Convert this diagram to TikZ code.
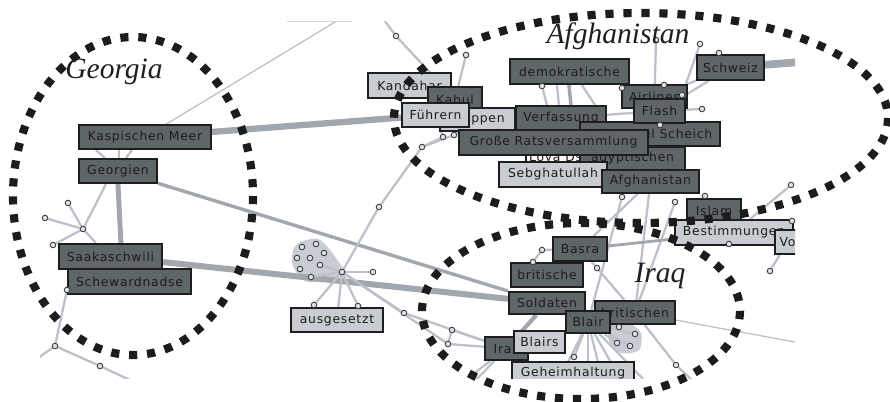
\documentclass[tikz,border=0pt]{standalone}
\usepackage{fontspec}
\newfontfamily\boxfont[LetterSpace=6]{DejaVu Sans}
\newfontfamily\ttlfont{Liberation Serif}
\usetikzlibrary{calc}
\pgfdeclarelayer{back}
\pgfdeclarelayer{bg}
\pgfsetlayers{back,bg,main}
\definecolor{dfill}{HTML}{5F6668}
\definecolor{lfill}{HTML}{C9CCD1}
\definecolor{bord}{HTML}{1E1E1E}
\definecolor{txt}{HTML}{1C1C1C}
\definecolor{edge}{HTML}{BCC0C8}
\definecolor{edgeD}{HTML}{A2A7AD}
\definecolor{dotf}{HTML}{DDE0E4}
\definecolor{dotb}{HTML}{3A3A3A}
\definecolor{blobc}{HTML}{C9CDD3}
\definecolor{ringc}{HTML}{1C1C1C}
\tikzset{
  dbox/.style={rectangle, draw=bord, line width=1.5pt, fill=dfill, text=txt,
    font=\boxfont\fontsize{8.8}{10}\selectfont, inner sep=0.5pt},
  lbox/.style={dbox, fill=lfill},
  wbox/.style={dbox, fill=white!95!lfill},
  dotn/.style={circle, draw=dotb, fill=dotf, line width=0.6pt, minimum size=4pt, inner sep=0pt},
  edt/.style={draw=edge, line width=0.9pt},
  ed/.style={draw=edge, line width=1.6pt},
  edk/.style={draw=edgeD, line width=4.5pt},
  ring/.style={draw=ringc, line width=5.8pt, dash pattern=on 5.8pt off 7pt},
  ttl/.style={font=\ttlfont\itshape\fontsize{21}{24}\selectfont, text=black!88, inner sep=0pt}
}
\newcommand\gbox[7]{%
  \pgfmathsetmacro\gbw{(#4-#2)*0.025}%
  \pgfmathsetmacro\gbh{(#5-#3)*0.025}%
  \node[#6, minimum width=\gbw cm, minimum height=\gbh cm] (#1) at ({(#2+#4)/2},{(#3+#5)/2}) {#7};}
\newcommand\gdot[3]{\node[dotn] (#1) at (#2,#3) {};}
\begin{document}
\begin{tikzpicture}[x=0.025cm,y=-0.025cm]
\useasboundingbox (0,0) rectangle (890,402);
\begin{pgfonlayer}{back}
\fill[white] (0,0) rectangle (890,402);
\end{pgfonlayer}
\begin{scope}
\clip (40,21) rectangle (795,378);
% ---- boxes
\gbox{kasp}{79}{125}{211}{149}{dbox}{Kaspischen Meer}
\gbox{geor}{79}{159}{157}{183}{dbox}{Georgien}
\gbox{saak}{59}{244}{162}{269}{dbox}{Saakaschwili}
\gbox{schew}{68}{269}{191}{294}{dbox}{Schewardnadse}
\gbox{ausg}{291}{308}{383}{332}{lbox}{ausgesetzt}
\gbox{kand}{368}{73}{451}{98}{lbox}{Kandahar}
\gbox{kabul}{428}{87}{482}{112}{dbox}{Kabul}
\gbox{trup}{440}{108}{515}{131}{lbox}{Truppen}
\gbox{fuehr}{402}{103}{469}{127}{lbox}{Führern}
\gbox{demo}{510}{59}{629}{84}{dbox}{demokratische}
\gbox{verf}{516}{106}{606}{130}{dbox}{Verfassung}
\gbox{airl}{622}{85}{687}{108}{dbox}{Airlines}
\gbox{schweiz}{697}{55}{764}{80}{dbox}{Schweiz}
\gbox{scharm}{580}{122}{720}{146}{dbox}{Scharm el Scheich}
\gbox{flash}{634}{99}{685}{123}{dbox}{Flash}
\gbox{loya}{526}{147}{628}{170}{wbox}{Loya Dschirga}
\gbox{aegypt}{580}{147}{685}{170}{dbox}{ägyptischen}
\gbox{grosse}{459}{130}{648}{155}{dbox}{Große Ratsversammlung}
\gbox{sebg}{499}{162}{607}{187}{lbox}{Sebghatullah}
\gbox{afgh}{602}{170}{699}{193}{dbox}{Afghanistan}
\gbox{islam}{687}{199}{741}{222}{dbox}{Islam}
\gbox{best}{675}{220}{793}{245}{lbox}{Bestimmungen}
\gbox{vo}{775}{230}{800}{254}{lbox}{Vo}
\gbox{basra}{553}{237}{607}{261}{dbox}{Basra}
\gbox{brit}{511}{263}{583}{287}{dbox}{britische}
\gbox{sold}{509}{292}{585}{314}{dbox}{Soldaten}
\gbox{britn}{595}{301}{675}{324}{dbox}{britischen}
\gbox{blair}{566}{311}{610}{333}{dbox}{Blair}
\gbox{irak}{485}{337}{528}{360}{dbox}{Irak}
\gbox{blairs}{514}{331}{565}{353}{lbox}{Blairs}
\gbox{geheim}{512}{362}{634}{384}{lbox}{Geheimhaltung}
% ---- small graph nodes
\gdot{g1}{68}{203}\gdot{g2}{45}{218}\gdot{g3}{53}{245}\gdot{ghub}{83}{229}
\gdot{s1}{67}{290}\gdot{s2}{55}{346}\gdot{s3}{100}{366}
\gdot{h}{342}{272}\gdot{h1}{373}{272}\gdot{h2}{379}{207}\gdot{h3}{422}{147}
\gdot{h4}{443}{137}\gdot{h5}{454}{135}
\gdot{a1}{314}{305}\gdot{a2}{358}{306}\gdot{a3}{404}{313}\gdot{a4}{452}{330}
\gdot{a5}{448}{344}\gdot{a6}{472}{375}
\gdot{b1}{302}{247}\gdot{b2}{316}{244}\gdot{b3}{324}{253}\gdot{b4}{297}{258}
\gdot{b5}{310}{258}\gdot{b6}{320}{265}\gdot{b7}{300}{269}\gdot{b8}{311}{277}
\gdot{k1}{396}{36}\gdot{k2}{466}{55}
\gdot{f1}{542}{86}\gdot{f2}{622}{88}\gdot{f3}{664}{85}\gdot{f4}{682}{95}
\gdot{f5}{702}{109}\gdot{f6}{660}{125}\gdot{f7}{656}{40}\gdot{f8}{700}{44}
\gdot{f9}{719}{53}\gdot{f10}{622}{197}\gdot{f11}{675}{202}\gdot{f12}{705}{196}
\gdot{v1}{791}{185}\gdot{v2}{792}{221}\gdot{v3}{729}{244}\gdot{v4}{770}{271}
\gdot{i1}{542}{250}\gdot{i2}{533}{262}\gdot{i3}{597}{268}
\gdot{i5}{619}{327}\gdot{i6}{635}{334}\gdot{i7}{617}{343}\gdot{i8}{630}{346}
\gdot{i9}{676}{365}\gdot{i10}{574}{357}
\end{scope}
% ---- connectors (behind the boxes)
\begin{pgfonlayer}{bg}
\begin{scope}
\clip (40,21) rectangle (795,378);
\coordinate (tA) at (345,16);
\coordinate (tL1) at (287,21.6);
\coordinate (tL2) at (352,21.6);
\coordinate (sL) at (38,358);
\coordinate (sB) at (132,381);
\coordinate (kT) at (381,16);
\coordinate (sR) at (800,62);
\coordinate (rR) at (800,343);
\coordinate (rB) at (694,382);
\coordinate (iB) at (474,382);
\coordinate (q1) at (558,382);
\coordinate (q2) at (588,382);
\coordinate (q3) at (603,382);
\coordinate (q4) at (622,382);
\coordinate (q5) at (646,382);
\fill[blobc] plot[smooth cycle] coordinates {(300,242)(318,239)(330,250)(340,264)(346,274)(326,281)(305,281)(293,266)(293,251)};
\fill[blobc] plot[smooth cycle] coordinates {(611,321)(627,322)(641,333)(639,350)(621,353)(609,341)};
\draw[edt] (kasp) -- (tA);
\draw[edt, draw=edge!60] (tL1) -- (tL2);
\draw[edk] (kasp) -- (fuehr);
\draw[edk, line width=2.4pt] (geor) -- (sold);
\draw[edk, line width=4.3pt] (saak) -- (sold);
\draw[ed] ($(kasp.south west)+(18,0)$) -- ($(geor.north west)+(27,0)$);
\draw[ed] ($(kasp.south west)+(41,0)$) -- ($(geor.north west)+(41,0)$);
\draw[ed] ($(kasp.south west)+(54,0)$) -- ($(geor.north west)+(48,0)$);
\draw[edk, line width=3.5pt] ($(geor.south west)+(40,0)$) -- ($(saak.north west)+(63,0)$);
\draw[ed] ($(geor.south west)+(28,0)$) -- (ghub);
\draw[ed] (ghub) -- (g1);
\draw[ed] (ghub) -- (g2);
\draw[ed] (ghub) -- (g3);
\draw[ed] (ghub) -- ($(saak.north west)+(38,0)$);
\draw[ed] (s1) -- (s2);
\draw[ed] (s2) -- (sL);
\draw[ed] (s2) -- (s3) -- (sB);
% ausgesetzt hub
\draw[ed] (h) -- (h1);
\draw[ed] (h) -- (h2) -- (h3) -- (h4) -- (fuehr);
\draw[ed] (h3) -- (h5) -- (trup);
\draw[ed] (h) -- (a1);
\draw[ed] (h) -- (ausg);
\draw[ed] (h) -- (a2);
\draw[ed] (h) -- (a3) -- (irak);
\draw[ed] (h) -- (a5) -- (irak);
\draw[ed] (a5) -- (a4) -- (irak);
\draw[ed] (a6) -- (irak);
\draw[ed] (h) -- (b6);
\draw[ed] (h) -- (b8);
% Kandahar / Kabul
\draw[ed] (kT) -- (k1) -- (kabul);
\draw[ed] (k2) -- (kabul);
% Afghanistan cluster
\draw[ed] (f1) -- ($(verf.north west)+(32,0)$);
\draw[ed] ($(demo.south west)+(48,0)$) -- ($(verf.north west)+(44,0)$);
\draw[edk, line width=2.5pt] ($(demo.south west)+(60,0)$) -- ($(verf.north west)+(56,0)$);
\draw[ed] ($(demo.south west)+(73,0)$) -- ($(verf.north west)+(80,0)$);
\draw[ed] (verf) -- (flash);
\draw[ed] (f7) -- (airl);
\draw[ed] (f8) -- (f4);
\draw[ed] (schweiz) -- (airl);
\draw[ed] (schweiz) -- (flash);
\draw[edk, line width=5.5pt] (schweiz) -- (sR);
\draw[ed] (f5) -- (flash);
\draw[ed] (f6) -- (flash);
\draw[ed] (afgh) -- (basra);
\draw[ed] (afgh) -- (britn);
\draw[ed] (f10) -- (blair);
\draw[ed] (f11) -- (britn);
\draw[edk, line width=2pt] (best) -- (basra);
\draw[ed] (v1) -- (best);
\draw[ed] (vo) -- (v4);
% Iraq cluster
\draw[ed] (basra) -- (i1) -- (i2);
\draw[ed] (basra) -- (i3) -- (britn);
\draw[edk, line width=3pt] (sold) -- (blair);
\draw[edk, line width=3pt] (sold) -- (irak);
\draw[ed] (blair) -- (i5);
\draw[ed] (blair) -- (i6);
\draw[ed] (blair) -- (i7);
\draw[ed] (blair) -- (i8);
\draw[ed] (blair) -- (i10);
\draw[ed] (blair) -- (q1);
\draw[ed] (blair) -- (q2);
\draw[ed] (blair) -- (q3);
\draw[ed] (blair) -- (q4);
\draw[ed] (blair) -- (q5);
\draw[edt] (britn) -- (rR);
\draw[ed] (britn) -- (i9) -- (rB);
\draw[ed] (irak) -- (iB);
\end{scope}
\end{pgfonlayer}
% ---- titles
\node[ttl, anchor=base] (tGeo) at (114,78) {Georgia};
\node[ttl, anchor=base] (tAfg) at (618,43) {Afghanistan};
\node[ttl, anchor=base] (tIrq) at (660,282) {Iraq};
% ---- dotted rings
\draw[ring] (133,196) ellipse [x radius=120, y radius=159];
\draw[ring] (641,118) ellipse [x radius=247, y radius=105];
\draw[ring] (581,311) ellipse [x radius=159, y radius=88];
\end{tikzpicture}
\end{document}
